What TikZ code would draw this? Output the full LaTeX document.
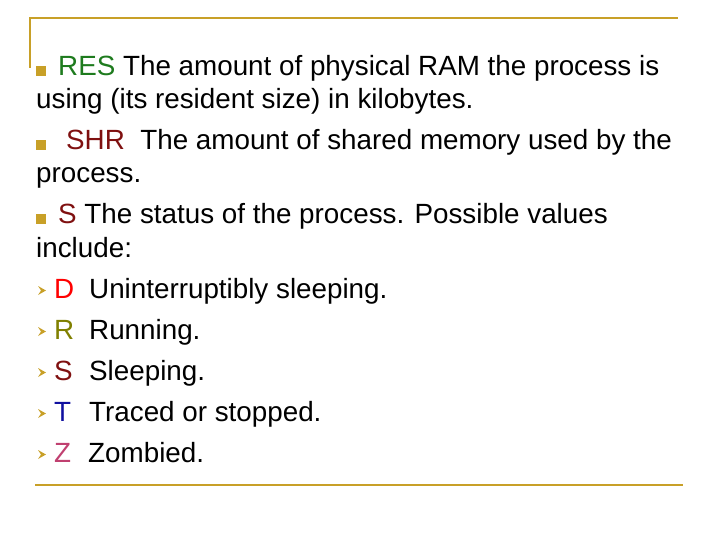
\documentclass[tikz,border=0pt]{standalone}
\usepackage{fontspec}
\setmainfont{Liberation Sans}
\definecolor{gold}{HTML}{C8A028}
\definecolor{resg}{HTML}{1E7B1E}
\definecolor{maroon}{HTML}{7F1010}
\definecolor{olive}{HTML}{808000}
\definecolor{navy}{HTML}{1010A0}
\definecolor{pinkz}{HTML}{C04070}
\begin{document}
\begin{tikzpicture}[x=1pt,y=-1pt,
  txt/.style={anchor=base west,inner sep=0pt,font=\fontsize{27.8}{32}\selectfont},
  rule/.style={draw=gold,line width=2pt}]
\useasboundingbox (0,0) rectangle (720,540);
\draw[rule] (30,68) -- (30,18) -- (678,18);
\draw[rule] (35,485) -- (683,485);
\foreach \y in {76,150,224}{\fill[gold] (36,\y) rectangle ++(10,-10);}
\foreach \y in {298,339,380,421,462}{\fill[gold] (38,\y-12) -- (46,\y-7.5) -- (38,\y-3) -- (41,\y-7.5) -- cycle;}
\node[txt] (l1) at (58,76) {\textcolor{resg}{RES} The amount of physical RAM the process is};
\node[txt] (l2) at (36,109) {using (its resident size) in kilobytes.};
\node[txt] (l3) at (66,150) {\textcolor{maroon}{SHR}\ \ The amount of shared memory used by the};
\node[txt] (l4) at (36,183) {process.};
\node[txt] (l5) at (58,224) {\textcolor{maroon}{S} The status of the process. Possible values};
\node[txt] (l6) at (36,257) {include:};
\node[txt,red] (d) at (54,298) {D};
\node[txt] (dt) at (89,298) {Uninterruptibly sleeping.};
\node[txt,olive] (r) at (54,339) {R};
\node[txt] (rt) at (89,339) {Running.};
\node[txt,maroon] (s) at (54,380) {S};
\node[txt] (st) at (89,380) {Sleeping.};
\node[txt,navy] (t) at (54,421) {T};
\node[txt] (tt) at (89,421) {Traced or stopped.};
\node[txt,pinkz] (z) at (54,462) {Z};
\node[txt] (zt) at (88,462) {Zombied.};
\end{tikzpicture}
\end{document}
